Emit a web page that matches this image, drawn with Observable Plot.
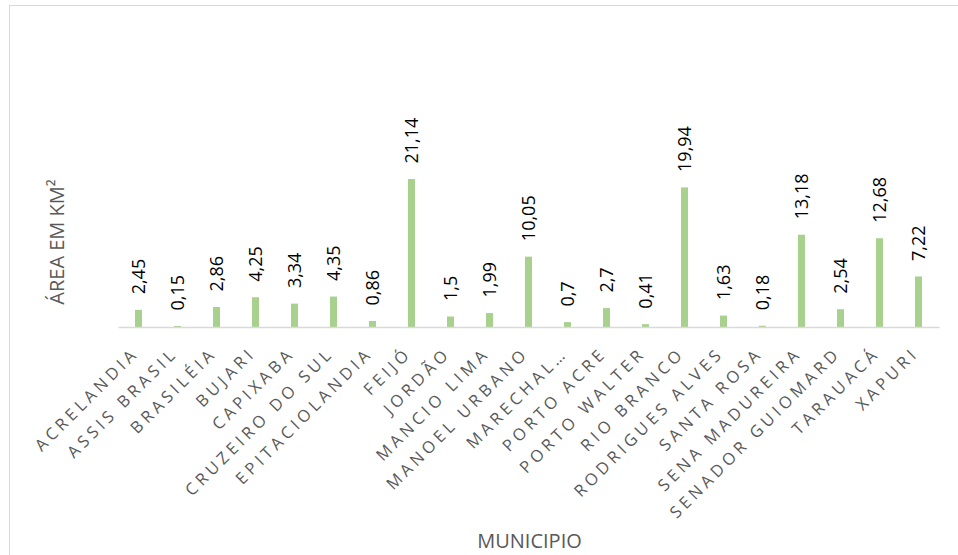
<!DOCTYPE html>
<html>
<head>
<meta charset="utf-8">
<script src="https://cdn.jsdelivr.net/npm/d3@7"></script>
<script src="https://cdn.jsdelivr.net/npm/@observablehq/plot@0.6"></script>
<style>
  html, body { margin: 0; padding: 0; background: #fff; overflow: hidden; }
  #wrap { position: relative; width: 958px; height: 555px; overflow: hidden; }
  #border { position: absolute; left: 9px; top: 5px; width: 2000px; height: 2000px;
            border: 1.5px solid #d9d9d9; pointer-events: none; box-sizing: border-box; }
  g[aria-label="x-axis tick label"] text { letter-spacing: 4px; }
</style>
</head>
<body>
<div id="wrap"><div id="border"></div></div>
<script>
const municipios = ["ACRELANDIA","ASSIS BRASIL","BRASILÉIA","BUJARI","CAPIXABA","CRUZEIRO DO SUL","EPITACIOLANDIA","FEIJÓ","JORDÃO","MANCIO LIMA","MANOEL URBANO","MARECHAL…","PORTO ACRE","PORTO WALTER","RIO BRANCO","RODRIGUES ALVES","SANTA ROSA","SENA MADUREIRA","SENADOR GUIOMARD","TARAUACÁ","XAPURI"];
const valores = [2.45,0.15,2.86,4.25,3.34,4.35,0.86,21.14,1.5,1.99,10.05,0.7,2.7,0.41,19.94,1.63,0.18,13.18,2.54,12.68,7.22];
const yTitle = "ÁREA EM KM²";
const xTitle = "MUNICIPIO";

const data = municipios.map((m, i) => ({m, v: valores[i], t: String(valores[i]).replace(".", ",")}));

const chart = Plot.plot({
  width: 958,
  height: 555,
  marginLeft: 118.5,
  marginRight: 18.5,
  marginTop: 152,
  marginBottom: 228,
  style: {fontFamily: "Open Sans", background: "transparent"},
  x: {type: "band", domain: municipios, paddingInner: 0.82, paddingOuter: 0.41, axis: null},
  y: {domain: [0, 25], axis: null},
  marks: [
    Plot.barY(data, {x: "m", y: "v", fill: "#A9D18E"}),
    Plot.ruleY([0], {stroke: "#d9d9d9", strokeWidth: 1.5}),
    Plot.text(data, {x: "m", y: "v", text: "t", rotate: -90, textAnchor: "start", lineAnchor: "middle",
      dy: -16, fontSize: 18, fill: "#000"}),
    Plot.axisX({tickSize: 0, tickPadding: 0, tickRotate: -45, textAnchor: "end", lineAnchor: "middle",
      dx: -3, dy: 23, fontSize: 16.5, color: "#595959", label: null}),
    Plot.text([yTitle], {frameAnchor: "left", text: d => d, rotate: -90, textAnchor: "middle", lineAnchor: "middle",
      dx: -61, dy: 2, fontSize: 20, fill: "#595959"}),
    Plot.text([xTitle], {frameAnchor: "bottom", text: d => d, textAnchor: "middle", lineAnchor: "middle",
      dy: 214, fontSize: 20, fill: "#595959"})
  ]
});
chart.style.position = "absolute";
chart.style.left = "0";
chart.style.top = "0";
d3.select(chart).selectAll('g[aria-label="x-axis tick label"] text').style("letter-spacing", "4px");
document.getElementById("wrap").appendChild(chart);
</script>
</body>
</html>
